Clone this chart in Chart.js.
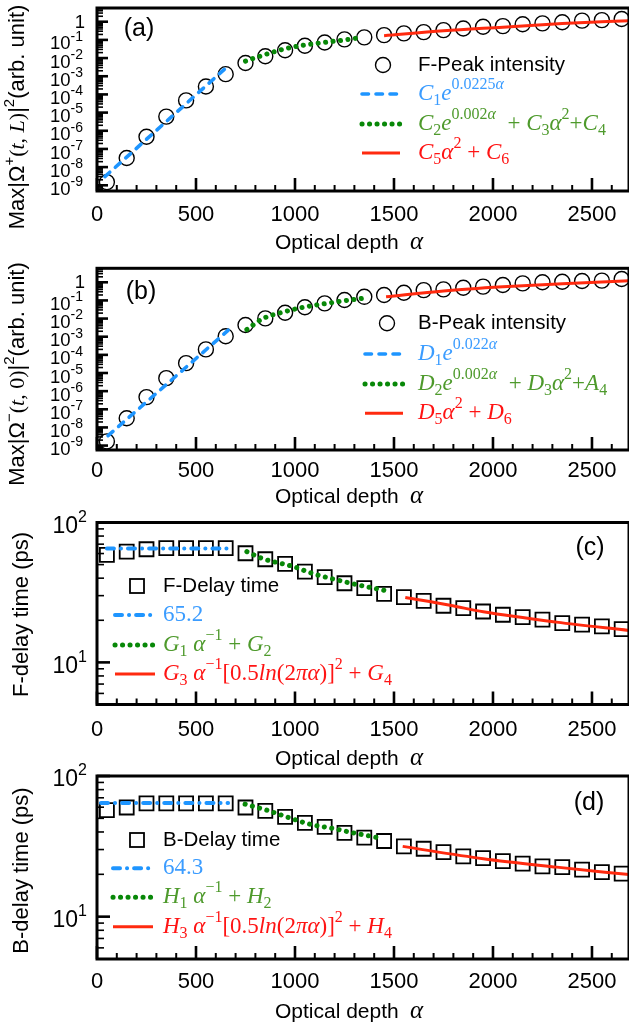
<!DOCTYPE html>
<html><head><meta charset="utf-8">
<script src="https://cdn.jsdelivr.net/npm/chart.js@4.4.1/dist/chart.umd.min.js"></script>
<style>
html,body{margin:0;padding:0;background:#fff;}
body{width:629px;height:1028px;overflow:hidden;position:relative;}
canvas{position:absolute;left:0;}
</style></head>
<body>
<canvas id="ca" width="629" height="262" style="top:0px"></canvas>
<canvas id="cb" width="629" height="262" style="top:250px"></canvas>
<canvas id="cc" width="629" height="272" style="top:500px"></canvas>
<canvas id="cd" width="629" height="268" style="top:760px"></canvas>
<script>
// ---------------- data ----------------
const alpha = [50,150,250,350,450,550,650,750,850,950,1050,1150,1250,1350,1450,1550,1650,1750,1850,1950,2050,2150,2250,2350,2450,2550,2650];
const peakF = [1.5e-9,3.2e-8,4.7e-7,6.0e-6,4.7e-5,2.75e-4,1.3e-3,5.4e-3,1.26e-2,2.7e-2,4.8e-2,7.2e-2,0.107,0.138,0.182,0.229,0.269,0.347,0.427,0.525,0.575,0.724,0.813,0.933,1.15,1.23,1.41];
const peakB = [1.7e-9,3.2e-8,4.7e-7,5.2e-6,3.5e-5,2.0e-4,1.07e-3,4.4e-3,1.02e-2,2.1e-2,4.2e-2,6.9e-2,0.105,0.158,0.20,0.263,0.372,0.407,0.50,0.575,0.708,0.87,1.0,1.07,1.17,1.23,1.51];
const delayF = [58.6,61.9,64.4,65.5,65.5,65.5,65.5,60.3,54.6,50.6,44.6,40.7,36.8,33.9,30.9,29.3,27.5,25.4,24.4,23.1,21.9,21.1,20.2,19.1,18.6,18.1,17.3];
const delayB = [57.2,59.7,63.8,63.8,63.8,63.8,63.8,59.7,56.5,51.2,46.4,43.5,39.4,36.5,34.5,31.6,30.4,28.8,26.8,26.1,24.8,23.8,22.8,22.5,21.6,20.7,20.2];

// fitted curves
const fitC1Alpha = [40,660],   fitC1 = [3.0e-9,3.5e-3];
const fitC2Alpha = [750,840,942,1043,1144,1245,1340], fitC2 = [6.8e-3,1.45e-2,3.1e-2,5.1e-2,7.2e-2,9.8e-2,0.138];
const fitC5Alpha = [1450,1750,2050,2350,2690], fitC5 = [0.17,0.316,0.50,0.79,1.15];
const fitD1Alpha = [56,663],   fitD1 = [3.5e-9,2.3e-3];
const fitD2Alpha = [757,840,942,1043,1163,1245,1340], fitD2 = [2.5e-3,1.02e-2,2.3e-2,4.2e-2,6.9e-2,9.5e-2,0.129];
const fitD5Alpha = [1460,1750,2050,2350,2690], fitD5 = [0.158,0.33,0.56,0.83,1.23];
const fitG0Alpha = [50,665],   fitG0 = [65.2,65.2];
const fitG1Alpha = [757,833,992,1094,1194,1296,1462], fitG1 = [61.9,55.4,48.4,43.0,39.4,36.4,32.5];
const fitG3Alpha = [1557,1783,1951,2321,2690], fitG3 = [29.1,25.6,23.0,19.4,16.9];
const fitH0Alpha = [20,662],   fitH0 = [64.3,64.3];
const fitH1Alpha = [748,857,958,1076,1194,1296,1416], fitH1 = [63.1,57.2,51.2,45.4,42.3,39.4,36.5];
const fitH3Alpha = [1544,1951,2322,2688], fitH3 = [31.6,25.8,22.5,19.9];

// ticks
const xTicks = [0,500,1000,1500,2000,2500];
const yTicksPeak = [1e-9,1e-8,1e-7,1e-6,1e-5,1e-4,1e-3,1e-2,1e-1,1];
const yLabelsPeak = ['10^-9','10^-8','10^-7','10^-6','10^-5','10^-4','10^-3','10^-2','10^-1','1'];
const yTicksDelay = [10,100];
const yLabelsDelay = ['10^1','10^2'];

// ---------------- styling ----------------
const SANS = '"Liberation Sans", Arial, Helvetica, sans-serif';
const SERIF = '"Liberation Serif", "Times New Roman", serif';
const COL = {blueLine:'#1e95ff', blueText:'#3b9cff', greenLine:'#088808', greenText:'#4e9a2c', redLine:'#ff2a0f', redText:'#ff1414'};
const STY = {
  dash:    {color:COL.blueLine,  width:3.6, dash:[6.5,7.5],      cap:'round'},
  dashdot: {color:COL.blueLine,  width:4,   dash:[7,7,0.1,7],    cap:'round'},
  dot:     {color:COL.greenLine, width:5,   dash:[0.1,7.4],      cap:'round'},
  solid:   {color:COL.redLine,   width:3,   dash:[],             cap:'butt'}
};
const X_MIN = 0, X_MAX = 2687, PLOT_LEFT = 97;

function segFont(kind, base){
  const small = Math.round(base*0.7);
  switch(kind){
    case 's':  return {font:`${base}px ${SANS}`, dy:0};
    case 'ss': return {font:`${small}px ${SANS}`, dy:-base*0.38};
    case 'i':  return {font:`italic ${base}px ${SERIF}`, dy:0};
    case 'r':  return {font:`${base}px ${SERIF}`, dy:0};
    case 'ip': return {font:`italic ${small}px ${SERIF}`, dy:-base*0.4};
    case 'rp': return {font:`${small}px ${SERIF}`, dy:-base*0.4};
    case 'ib': return {font:`italic ${small}px ${SERIF}`, dy:base*0.3};
    case 'rb': return {font:`${small}px ${SERIF}`, dy:base*0.3};
    case 'A':  return {font:`italic ${Math.round(base*1.2)}px ${SERIF}`, dy:-1};
  }
}
function richWidth(ctx, segs, base){
  let w = 0;
  for (const [t,k] of segs){ ctx.font = segFont(k,base).font; w += ctx.measureText(t).width; }
  return w;
}
function drawRich(ctx, segs, x, y, base, color, align){
  ctx.save();
  ctx.fillStyle = color; ctx.textBaseline = 'middle'; ctx.textAlign = 'left';
  let cx = x;
  if (align === 'center') cx = x - richWidth(ctx, segs, base)/2;
  for (const [t,k] of segs){
    const f = segFont(k,base);
    ctx.font = f.font; ctx.fillText(t, cx, y + f.dy); cx += ctx.measureText(t).width;
  }
  ctx.restore();
}
function strokeSample(ctx, sty, x0, x1, y){
  ctx.save();
  ctx.strokeStyle = sty.color; ctx.lineWidth = sty.width; ctx.setLineDash(sty.dash); ctx.lineCap = sty.cap;
  ctx.beginPath(); ctx.moveTo(x0,y); ctx.lineTo(x1,y); ctx.stroke();
  ctx.restore();
}

// ---------------- panels ----------------
const panels = [
  { id:'ca', h:262, plotTop:8, plotBottom:191, ymin:4.85e-10, ymax:5.69, points:peakF, marker:'circle',
    fits:[{xs:fitC1Alpha,ys:fitC1,style:'dash'},{xs:fitC2Alpha,ys:fitC2,style:'dot'},{xs:fitC5Alpha,ys:fitC5,style:'solid'}],
    yTicks:yTicksPeak, yLabels:yLabelsPeak, yBase:18.5, yExp:14, yBaseDy:4.5, yExpDy:-3, yRight:83, yMaj:11, yMin:6, xPad:11,
    title:[['Max|Ω','s'],['+','ss'],['(','r'],['t','i'],[', ','r'],['L','i'],[')','r'],['|','s'],['2','ss'],['(arb. unit)','s']],
    titleX:18, titleY:117, xTitleY:243, letter:'(a)', letterX:139, letterY:29,
    legend:{mx:383, my:65, label:'F-Peak intensity', tx:418, x0:362, x1:400, rows:[
      {y:94, style:'dash', color:COL.blueText, segs:[['C','i'],['1','rb'],['e','i'],['0.0225','rp'],['α','ip']]},
      {y:124, style:'dot', color:COL.greenText, segs:[['C','i'],['2','rb'],['e','i'],['0.002','rp'],['α','ip'],['  + ','r'],['C','i'],['3','rb'],['α','i'],['2','rp'],['+','r'],['C','i'],['4','rb']]},
      {y:153, style:'solid', color:COL.redText, segs:[['C','i'],['5','rb'],['α','i'],['2','rp'],[' + ','r'],['C','i'],['6','rb']]}
    ]}
  },
  { id:'cb', h:262, plotTop:18.3, plotBottom:200, ymin:5.7e-10, ymax:5.9, points:peakB, marker:'circle',
    fits:[{xs:fitD1Alpha,ys:fitD1,style:'dash'},{xs:fitD2Alpha,ys:fitD2,style:'dot'},{xs:fitD5Alpha,ys:fitD5,style:'solid'}],
    yTicks:yTicksPeak, yLabels:yLabelsPeak, yBase:18.5, yExp:14, yBaseDy:4.5, yExpDy:-3, yRight:83, yMaj:11, yMin:6, xPad:8,
    title:[['Max|Ω','s'],['−','ss'],['(','r'],['t','i'],[', 0)','r'],['|','s'],['2','ss'],['(arb. unit)','s']],
    titleX:18, titleY:124, xTitleY:247, letter:'(b)', letterX:141, letterY:41.7,
    legend:{mx:387, my:73.3, label:'B-Peak intensity', tx:418, x0:365, x1:403, rows:[
      {y:104, style:'dash', color:COL.blueText, segs:[['D','i'],['1','rb'],['e','i'],['0.022','rp'],['α','ip']]},
      {y:134, style:'dot', color:COL.greenText, segs:[['D','i'],['2','rb'],['e','i'],['0.002','rp'],['α','ip'],['  + ','r'],['D','i'],['3','rb'],['α','i'],['2','rp'],['+','r'],['A','i'],['4','rb']]},
      {y:163.3, style:'solid', color:COL.redText, segs:[['D','i'],['5','rb'],['α','i'],['2','rp'],[' + ','r'],['D','i'],['6','rb']]}
    ]}
  },
  { id:'cc', h:272, plotTop:22.5, plotBottom:204.5, ymin:5, ymax:100, points:delayF, marker:'rect',
    fits:[{xs:fitG0Alpha,ys:fitG0,style:'dashdot'},{xs:fitG1Alpha,ys:fitG1,style:'dot'},{xs:fitG3Alpha,ys:fitG3,style:'solid'}],
    yTicks:yTicksDelay, yLabels:yLabelsDelay, yBase:23, yExp:16, yBaseDy:4, yExpDy:-5, yRight:87, yMaj:13, yMin:7, xPad:12,
    title:[['F-delay time (ps)','s']],
    titleX:22, titleY:114.5, xTitleY:259.5, letter:'(c)', letterX:590, letterY:48,
    legend:{mx:137, my:86, label:'F-Delay time', tx:163, x0:115, x1:155, rows:[
      {y:115, style:'dashdot', color:COL.blueText, segs:[['65.2','r']]},
      {y:145, style:'dot', color:COL.greenText, segs:[['G','i'],['1','rb'],[' α','i'],['−1','rp'],[' + ','r'],['G','i'],['2','rb']]},
      {y:174, style:'solid', color:COL.redText, segs:[['G','i'],['3','rb'],[' α','i'],['−1','rp'],['[0.5','r'],['ln','i'],['(2','r'],['πα','i'],[')]','r'],['2','rp'],[' + ','r'],['G','i'],['4','rb']]}
    ]}
  },
  { id:'cd', h:268, plotTop:16, plotBottom:199, ymin:5, ymax:100, points:delayB, marker:'rect',
    fits:[{xs:fitH0Alpha,ys:fitH0,style:'dashdot'},{xs:fitH1Alpha,ys:fitH1,style:'dot'},{xs:fitH3Alpha,ys:fitH3,style:'solid'}],
    yTicks:yTicksDelay, yLabels:yLabelsDelay, yBase:23, yExp:16, yBaseDy:4, yExpDy:-5, yRight:87, yMaj:13, yMin:7, xPad:10,
    title:[['B-delay time (ps)','s']],
    titleX:22, titleY:110.5, xTitleY:252.5, letter:'(d)', letterX:589, letterY:43,
    legend:{mx:137, my:80, label:'B-Delay time', tx:163, x0:113, x1:153, rows:[
      {y:108.3, style:'dashdot', color:COL.blueText, segs:[['64.3','r']]},
      {y:137.3, style:'dot', color:COL.greenText, segs:[['H','i'],['1','rb'],[' α','i'],['−1','rp'],[' + ','r'],['H','i'],['2','rb']]},
      {y:166.7, style:'solid', color:COL.redText, segs:[['H','i'],['3','rb'],[' α','i'],['−1','rp'],['[0.5','r'],['ln','i'],['(2','r'],['πα','i'],[')]','r'],['2','rp'],[' + ','r'],['H','i'],['4','rb']]}
    ]}
  }
];

function panelPlugin(p){
  return {
    id:'panel_'+p.id,
    afterDatasetsDraw(chart){
      const {ctx, chartArea:a, scales:{x, y}} = chart;
      ctx.save();
      ctx.strokeStyle = '#000'; ctx.lineCap = 'butt'; ctx.setLineDash([]);
      for (let v = 0; v <= x.max; v += 100){
        const px = x.getPixelForValue(v); const major = v % 500 === 0;
        ctx.lineWidth = major ? 2.6 : 2;
        ctx.beginPath(); ctx.moveTo(px, a.bottom); ctx.lineTo(px, a.bottom - (major ? 13 : 6)); ctx.stroke();
      }
      const e0 = Math.floor(Math.log10(y.min)), e1 = Math.ceil(Math.log10(y.max));
      for (let e = e0; e <= e1; e++){
        for (let m = 1; m < 10; m++){
          const v = m * Math.pow(10, e);
          if (v < y.min || v > y.max) continue;
          const py = y.getPixelForValue(v); const major = m === 1;
          ctx.lineWidth = major ? 2.6 : 1.6;
          ctx.beginPath(); ctx.moveTo(a.left, py); ctx.lineTo(a.left + (major ? p.yMaj : p.yMin), py); ctx.stroke();
        }
      }
      ctx.lineWidth = 3;
      ctx.strokeRect(a.left, a.top, a.right - a.left, a.bottom - a.top);
      ctx.restore();
    },
    afterDraw(chart){
      const {ctx, chartArea:a, scales:{y}} = chart;
      p.yTicks.forEach((v, i) => {
        const parts = p.yLabels[i].split('^');
        const py = y.getPixelForValue(v);
        ctx.save();
        ctx.fillStyle = '#000'; ctx.textAlign = 'right'; ctx.textBaseline = 'middle';
        let xr = p.yRight;
        if (parts.length > 1){
          ctx.font = `${p.yExp}px ${SANS}`; ctx.fillText(parts[1], xr, py + p.yExpDy);
          xr -= ctx.measureText(parts[1]).width;
          ctx.font = `${p.yBase}px ${SANS}`; ctx.fillText(parts[0], xr, py + p.yBaseDy);
        } else {
          ctx.font = `${p.yBase}px ${SANS}`; ctx.fillText(parts[0], xr + 2, py + 1);
        }
        ctx.restore();
      });
      ctx.save();
      ctx.translate(p.titleX, p.titleY); ctx.rotate(-Math.PI/2);
      drawRich(ctx, p.title, 0, 0, 22, '#000', 'center');
      ctx.restore();
      drawRich(ctx, [['Optical depth','s']], 275, p.xTitleY, 21, '#000');
      drawRich(ctx, [['α','A']], 410, p.xTitleY, 21, '#000');
      ctx.save();
      ctx.fillStyle = '#000'; ctx.font = `25px ${SANS}`; ctx.textAlign = 'center'; ctx.textBaseline = 'middle';
      ctx.fillText(p.letter, p.letterX, p.letterY);
      ctx.restore();
      const L = p.legend;
      ctx.save();
      ctx.strokeStyle = '#000';
      if (p.marker === 'circle'){
        ctx.lineWidth = 1.4; ctx.beginPath(); ctx.arc(L.mx, L.my, 7.5, 0, Math.PI*2); ctx.stroke();
      } else {
        ctx.lineWidth = 1.8; ctx.strokeRect(L.mx - 7, L.my - 7, 14, 14);
      }
      ctx.fillStyle = '#000'; ctx.font = `20.5px ${SANS}`; ctx.textAlign = 'left'; ctx.textBaseline = 'middle';
      ctx.fillText(L.label, L.tx, L.my);
      ctx.restore();
      L.rows.forEach(r => {
        strokeSample(ctx, STY[r.style], L.x0, L.x1, r.y);
        drawRich(ctx, r.segs, L.tx, r.y, 23, r.color);
      });
    }
  };
}

function makePanel(p){
  const datasets = [];
  datasets.push({
    label: p.legend.label,
    data: alpha.map((a, i) => ({x:a, y:p.points[i]})),
    showLine:false, pointStyle:p.marker, pointRadius: p.marker === 'circle' ? 7.5 : 9.9,
    pointBorderColor:'#000', pointBackgroundColor:'rgba(0,0,0,0)',
    pointBorderWidth: p.marker === 'circle' ? 1.4 : 1.8, pointHoverRadius:0, order:3
  });
  p.fits.forEach((f, k) => {
    const s = STY[f.style];
    datasets.push({
      label:'fit'+k, data: f.xs.map((a, i) => ({x:a, y:f.ys[i]})),
      showLine:true, fill:false, borderColor:s.color, borderWidth:s.width, borderDash:s.dash,
      borderCapStyle:s.cap, pointRadius:0, pointHoverRadius:0,
      cubicInterpolationMode: f.xs.length > 2 ? 'monotone' : 'default', order:1
    });
  });
  new Chart(document.getElementById(p.id), {
    type:'scatter',
    data:{datasets},
    options:{
      responsive:false, animation:false, events:[],
      layout:{autoPadding:false, padding:{left:0, right:0, top:p.plotTop, bottom:0}},
      plugins:{legend:{display:false}, tooltip:{enabled:false}},
      scales:{
        x:{type:'linear', min:X_MIN, max:X_MAX,
           grid:{display:false, drawTicks:false}, border:{display:false},
           ticks:{color:'#000', font:{family:SANS, size:22}, padding:p.xPad, maxRotation:0, autoSkip:false,
                  callback:(v) => String(v)},
           afterBuildTicks:(s) => { s.ticks = xTicks.map(v => ({value:v})); },
           afterFit:(s) => { s.height = p.h - p.plotBottom; }},
        y:{type:'logarithmic', min:p.ymin, max:p.ymax,
           grid:{display:false, drawTicks:false}, border:{display:false},
           ticks:{display:false},
           afterBuildTicks:(s) => { s.ticks = p.yTicks.map(v => ({value:v})); },
           afterFit:(s) => { s.width = PLOT_LEFT; }}
      }
    },
    plugins:[panelPlugin(p)]
  });
}
panels.forEach(makePanel);
</script>
</body></html>
